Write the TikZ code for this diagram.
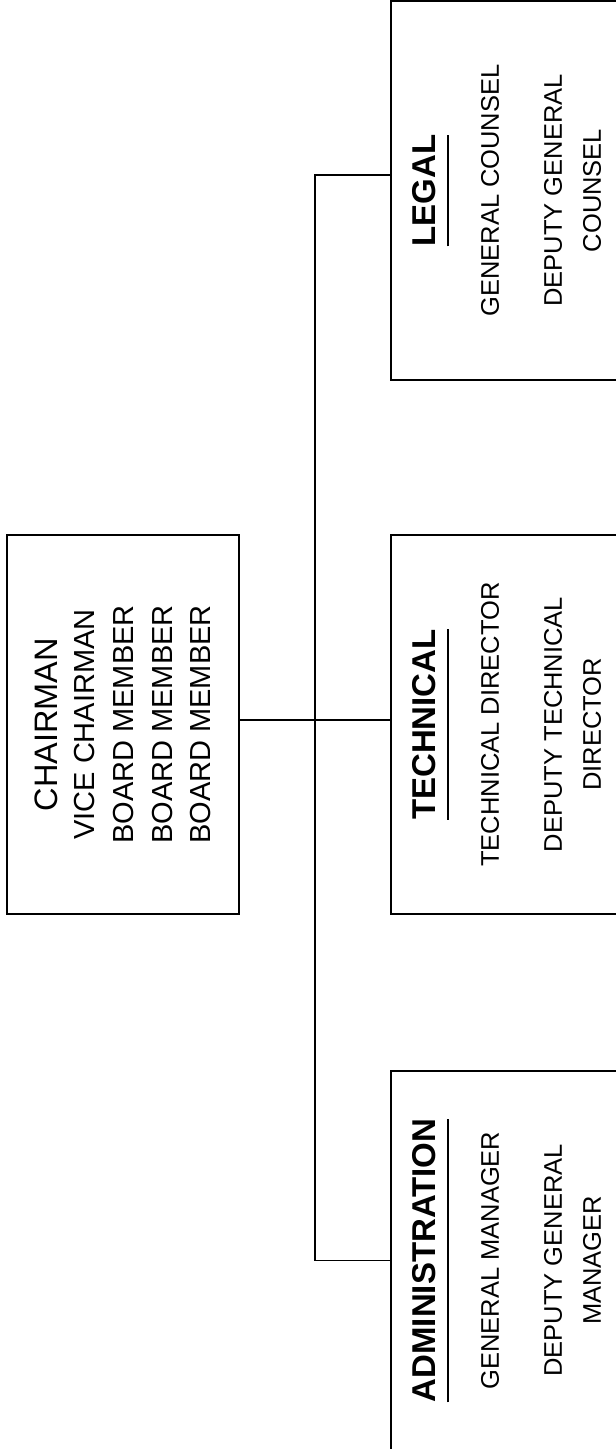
\documentclass[tikz,border=0pt]{standalone}
\usepackage{fontspec}
\setmainfont{Liberation Sans}

\def\boxlen{379pt}
\def\boxdepth{232pt}

% bold heading with a rule under it
\newcommand\headline[1]{%
  \setbox0\hbox{\fontsize{33}{40}\selectfont\bfseries #1}%
  \vtop{\copy0\kern11.25pt\hrule height1.5pt width\wd0}}

\begin{document}
\begin{tikzpicture}[x=1pt,y=-1pt,line width=1.6pt]
    \tikzstyle{unit}=[draw,rotate=90,minimum width=\boxlen,minimum height=\boxdepth,
        inner sep=0pt,align=center]
    \tikzstyle{board unit}=[unit,font=\fontsize{29}{38.75}\selectfont]
    \tikzstyle{dept unit}=[unit,font=\fontsize{25.5}{39}\selectfont]

    \useasboundingbox (0,0) rectangle (616,1449);

    % Draw the board box
    \node[board unit] (chair) at (123,724.5)
        {{\fontsize{32.5}{39}\selectfont CHAIRMAN}\\[-1.75pt] VICE CHAIRMAN\\
         BOARD MEMBER\\ BOARD MEMBER\\ BOARD MEMBER};

    % Draw the department boxes
    \foreach \name/\y/\dhead/\first/\second/\third in {
        legal/190.5/LEGAL/GENERAL COUNSEL/DEPUTY GENERAL/COUNSEL,
        tech/724.5/TECHNICAL/TECHNICAL DIRECTOR/DEPUTY TECHNICAL/DIRECTOR,
        admin/1260.5/ADMINISTRATION/GENERAL MANAGER/DEPUTY GENERAL/MANAGER}
        \node[dept unit] (\name) at (507,\y)
            {\headline{\dhead}\\[24pt] \first\\[24pt] \second\\ \third};

    % Connect the board with every department
    \draw ([yshift=4.5pt]chair.south) -- ([yshift=4.5pt]tech.north)
        coordinate[pos=0.5] (bus);
    \draw ([yshift=15.5pt]legal.north) -| (bus) |- (admin.north);
\end{tikzpicture}
\end{document}
